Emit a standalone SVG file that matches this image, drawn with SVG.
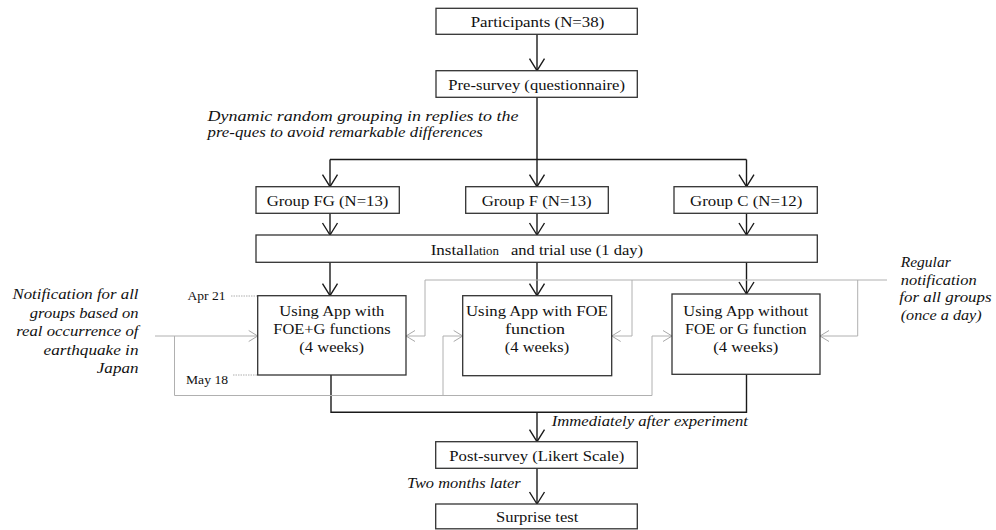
<svg xmlns="http://www.w3.org/2000/svg" width="996" height="530" viewBox="0 0 996 530" font-family="'Liberation Serif', 'Times New Roman', Times, serif">
  <defs>
    <!-- open V arrowheads -->
    <marker id="arrow" markerUnits="userSpaceOnUse" markerWidth="16" markerHeight="20" viewBox="-14 -10 16 20" refX="0" refY="0" orient="auto">
      <path d="M-12,-7.5 L0,0 L-12,7.5" fill="none" stroke="#1a1a1a" stroke-width="1.4"/>
    </marker>
    <marker id="arrow-gray" markerUnits="userSpaceOnUse" markerWidth="12" markerHeight="14" viewBox="-11 -7 12 14" refX="0" refY="0" orient="auto">
      <path d="M-9,-5.5 L0,0 L-9,5.5" fill="none" stroke="#a8a8a8" stroke-width="1"/>
    </marker>
    <style>
      text { font-family: 'Liberation Serif', 'Times New Roman', Times, serif; fill: #111; }
      .box { fill: #fff; stroke: #333; stroke-width: 1.3; }
      .lbl { font-size: 15.2px; text-anchor: middle; }
      .note { font-size: 14.6px; font-style: italic; }
      .end { text-anchor: end; }
      .date { font-size: 12.8px; }
      .flow { fill: none; stroke: #1a1a1a; stroke-width: 1.4; }
      .flow-arrow { fill: none; stroke: #1a1a1a; stroke-width: 1.4; marker-end: url(#arrow); }
      .notify { fill: none; stroke: #b0b0b0; stroke-width: 1; }
      .notify-arrow { fill: none; stroke: #b0b0b0; stroke-width: 1; marker-end: url(#arrow-gray); }
      .period { fill: none; stroke: #9a9a9a; stroke-width: 0.8; stroke-dasharray: 1.5 1; }
    </style>
  </defs>

  <!-- connectors -->
  <g id="connectors">
    <path class="flow-arrow" d="M537,34.3 V70.7"/>
    <path class="flow" d="M537,97.3 V159.5 M330,159.5 H746.5"/>
    <path class="flow-arrow" d="M330,159.5 V186.7"/>
    <path class="flow-arrow" d="M537,159.5 V186.7"/>
    <path class="flow-arrow" d="M746.5,159.5 V186.7"/>
    <path class="flow-arrow" d="M330,213.3 V235"/>
    <path class="flow-arrow" d="M537,213.3 V235"/>
    <path class="flow-arrow" d="M746.5,213.3 V235"/>
    <path class="flow-arrow" d="M330,262.3 V295.7"/>
    <path class="flow-arrow" d="M537,262.3 V295.7"/>
    <path class="flow-arrow" d="M746.5,262.3 V294"/>
    <path class="flow" d="M331,375 V412.3 H746.5 V374.3"/>
    <path class="flow-arrow" d="M537,412.3 V441.7"/>
    <path class="flow-arrow" d="M537,468.3 V504"/>

    <!-- earthquake notifications (left feed) -->
    <path class="notify-arrow" d="M155,336 H257.7"/>
    <path class="notify" d="M174.5,336 V395.5 H652"/>
    <path class="notify-arrow" d="M443,395.5 V336 H462.7"/>
    <path class="notify-arrow" d="M652,395.5 V336 H672"/>

    <!-- regular daily notifications (right feed) -->
    <path class="notify" d="M887,280 H425"/>
    <path class="notify-arrow" d="M425,280 V336 H406"/>
    <path class="notify-arrow" d="M632,280 V336 H611.7"/>
    <path class="notify-arrow" d="M857.7,280 V336 H820"/>

    <!-- experiment period markers -->
    <path class="period" d="M231,296 H257.7 M233,375 H257.7"/>
  </g>

  <g id="participants">
    <rect class="box" x="436" y="8.3" width="201.3" height="26"/>
    <text class="lbl" x="537.5" y="27" textLength="133.7" lengthAdjust="spacingAndGlyphs">Participants (N=38)</text>
  </g>

  <g id="pre-survey">
    <rect class="box" x="436" y="70.7" width="201.3" height="26.6"/>
    <text class="lbl" x="536.6" y="89.5" textLength="176.7" lengthAdjust="spacingAndGlyphs">Pre-survey (questionnaire)</text>
  </g>

  <g id="grouping-note">
    <text class="note" x="207.5" y="120.5" textLength="311" lengthAdjust="spacingAndGlyphs">Dynamic random grouping in replies to the</text>
    <text class="note" x="207.5" y="136.5" textLength="275.4" lengthAdjust="spacingAndGlyphs">pre-ques to avoid remarkable differences</text>
  </g>

  <g id="group-fg">
    <rect class="box" x="256" y="186.7" width="143.3" height="26.6"/>
    <text class="lbl" x="327.5" y="205.5" textLength="121.7" lengthAdjust="spacingAndGlyphs">Group FG (N=13)</text>
  </g>

  <g id="group-f">
    <rect class="box" x="465.7" y="186.7" width="142.6" height="26.6"/>
    <text class="lbl" x="536.7" y="205.5" textLength="110" lengthAdjust="spacingAndGlyphs">Group F (N=13)</text>
  </g>

  <g id="group-c">
    <rect class="box" x="674" y="186.7" width="143.3" height="26.6"/>
    <text class="lbl" x="746.2" y="205.5" textLength="112.3" lengthAdjust="spacingAndGlyphs">Group C (N=12)</text>
  </g>

  <g id="installation">
    <rect class="box" x="256" y="235" width="561.3" height="27.3"/>
    <text x="430.7" y="254.5" style="font-size:15.2px" textLength="68.3" lengthAdjust="spacingAndGlyphs">Install<tspan style="font-size:11.5px">ation</tspan></text>
    <text x="511" y="254.5" style="font-size:15.2px" textLength="132" lengthAdjust="spacingAndGlyphs">and trial use (1 day)</text>
  </g>

  <g id="app-fg">
    <rect class="box" x="257.7" y="295.7" width="148.3" height="79.3"/>
    <text class="lbl" x="331.8" y="316" textLength="105" lengthAdjust="spacingAndGlyphs">Using App with</text>
    <text class="lbl" x="332" y="333.5" textLength="117.3" lengthAdjust="spacingAndGlyphs">FOE+G functions</text>
    <text class="lbl" x="331.7" y="351.5" textLength="64.7" lengthAdjust="spacingAndGlyphs">(4 weeks)</text>
  </g>

  <g id="app-f">
    <rect class="box" x="462.7" y="295.7" width="149" height="80"/>
    <text class="lbl" x="536.9" y="316" textLength="141.7" lengthAdjust="spacingAndGlyphs">Using App with FOE</text>
    <text class="lbl" x="535" y="333.5" textLength="60" lengthAdjust="spacingAndGlyphs">function</text>
    <text class="lbl" x="537" y="351.5" textLength="64.3" lengthAdjust="spacingAndGlyphs">(4 weeks)</text>
  </g>

  <g id="app-c">
    <rect class="box" x="672" y="294" width="148" height="80.3"/>
    <text class="lbl" x="745.8" y="316" textLength="125" lengthAdjust="spacingAndGlyphs">Using App without</text>
    <text class="lbl" x="745.8" y="333.5" textLength="121.7" lengthAdjust="spacingAndGlyphs">FOE or G function</text>
    <text class="lbl" x="745.8" y="351.5" textLength="65" lengthAdjust="spacingAndGlyphs">(4 weeks)</text>
  </g>

  <g id="period-dates">
    <text class="date" x="187.5" y="299.5" textLength="38" lengthAdjust="spacingAndGlyphs">Apr 21</text>
    <text class="date" x="186" y="383.5" textLength="42" lengthAdjust="spacingAndGlyphs">May 18</text>
  </g>

  <g id="earthquake-note">
    <text class="note end" x="138.5" y="299" textLength="126" lengthAdjust="spacingAndGlyphs">Notification for all</text>
    <text class="note end" x="138.5" y="317.5" textLength="108.7" lengthAdjust="spacingAndGlyphs">groups based on</text>
    <text class="note end" x="138.5" y="336" textLength="122.3" lengthAdjust="spacingAndGlyphs">real occurrence of</text>
    <text class="note end" x="138.5" y="354.5" textLength="95" lengthAdjust="spacingAndGlyphs">earthquake in</text>
    <text class="note end" x="138.5" y="373" textLength="41.7" lengthAdjust="spacingAndGlyphs">Japan</text>
  </g>

  <g id="regular-note">
    <text class="note" x="900.7" y="267" textLength="50" lengthAdjust="spacingAndGlyphs">Regular</text>
    <text class="note" x="900.7" y="284.5" textLength="76" lengthAdjust="spacingAndGlyphs">notification</text>
    <text class="note" x="899.3" y="302" textLength="92.3" lengthAdjust="spacingAndGlyphs">for all groups</text>
    <text class="note" x="900.7" y="319.5" textLength="81" lengthAdjust="spacingAndGlyphs">(once a day)</text>
  </g>

  <g id="timing-notes">
    <text class="note" x="551.7" y="426" textLength="196.3" lengthAdjust="spacingAndGlyphs">Immediately after experiment</text>
    <text class="note" x="407" y="487.5" textLength="113.7" lengthAdjust="spacingAndGlyphs">Two months later</text>
  </g>

  <g id="post-survey">
    <rect class="box" x="435.7" y="441.7" width="201.6" height="26.6"/>
    <text class="lbl" x="536.8" y="460.5" textLength="175" lengthAdjust="spacingAndGlyphs">Post-survey (Likert Scale)</text>
  </g>

  <g id="surprise-test">
    <rect class="box" x="435.7" y="504" width="201.6" height="24.8"/>
    <text class="lbl" x="537.2" y="521.5" textLength="82.3" lengthAdjust="spacingAndGlyphs">Surprise test</text>
  </g>
</svg>
